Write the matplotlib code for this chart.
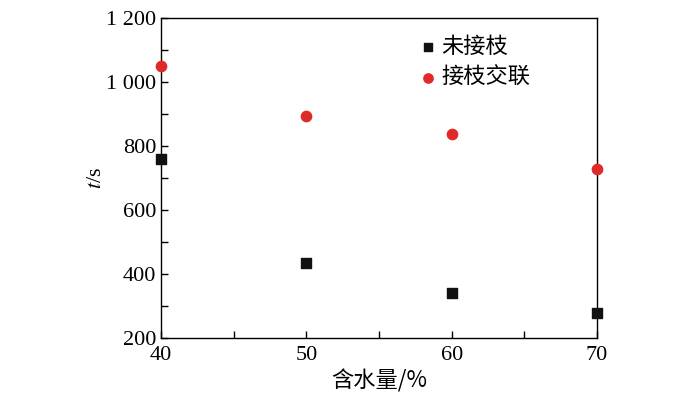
import matplotlib
matplotlib.use("Agg")
import matplotlib.pyplot as plt
from matplotlib.ticker import FuncFormatter, MultipleLocator

# data
water = [40, 50, 60, 70]
t_ungrafted = [760, 435, 340, 278]
t_grafted = [1050, 893, 838, 730]
series_names = ["未接枝", "接枝交联"]

plt.rcParams['font.family'] = ['Liberation Serif', 'Noto Sans CJK SC']
plt.rcParams['mathtext.fontset'] = 'stix'

fig = plt.figure(figsize=(7, 3.95), dpi=100)
ax = fig.add_axes([0.23, 0.144, 0.623, 0.81])

ax.scatter(water, t_ungrafted, marker='s', s=45, color='#111111', label=series_names[0],
           clip_on=False, zorder=3)
ax.scatter(water, t_grafted, marker='o', s=55, color='#e02a2a', label=series_names[1],
           clip_on=False, zorder=3)

ax.set_xlim(40, 70)
ax.set_ylim(200, 1200)
ax.xaxis.set_major_locator(MultipleLocator(10))
ax.xaxis.set_minor_locator(MultipleLocator(5))
ax.yaxis.set_major_locator(MultipleLocator(200))
ax.yaxis.set_minor_locator(MultipleLocator(100))
ax.yaxis.set_major_formatter(FuncFormatter(lambda v, p: f"{int(v):,}".replace(",", " ")))

ax.tick_params(which='both', direction='in', top=False, right=False, labelsize=16)
ax.tick_params(which='major', length=5, width=1)
ax.tick_params(which='minor', length=5, width=1)
ax.tick_params(axis='x', pad=6)
for s in ax.spines.values():
    s.set_linewidth(1)

ax.set_xlabel("含水量/%", fontsize=16, family=['Noto Sans CJK SC', 'Liberation Serif'],
              labelpad=3)
ax.set_ylabel("$t$/s", fontsize=16, labelpad=0)

leg = ax.legend(loc='upper left', bbox_to_anchor=(0.535, 1.01), frameon=False,
                prop={'family': 'Noto Sans CJK SC', 'size': 16},
                handletextpad=0.0, labelspacing=0.35, handlelength=1.2,
                markerscale=0.9)

fig.savefig("out.png", dpi=100)
